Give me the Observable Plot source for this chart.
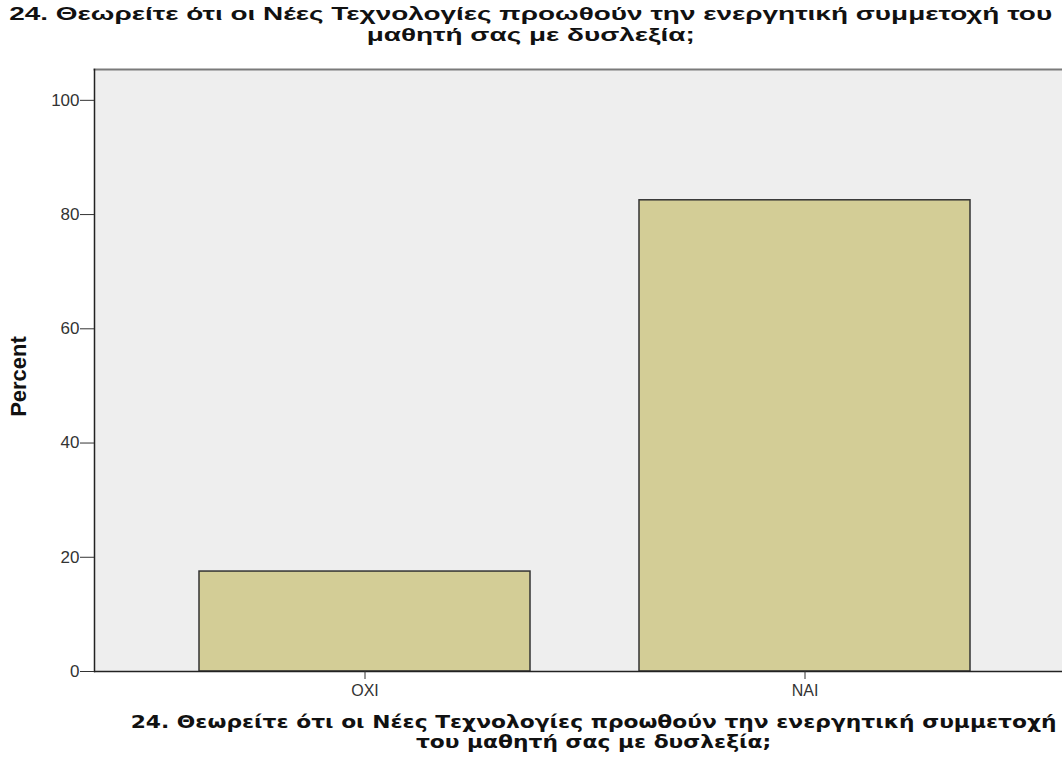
<!DOCTYPE html>
<html><head><meta charset="utf-8">
<script src="https://cdn.jsdelivr.net/npm/d3@7"></script>
<script src="https://cdn.jsdelivr.net/npm/@observablehq/plot@0.6"></script>
<style>
body{margin:0;background:#fff;width:1062px;height:769px;overflow:hidden;}
#title{font:bold 19px "Liberation Sans",Arial,sans-serif;text-align:center;line-height:21px;height:50px;padding-top:3px;box-sizing:border-box;color:#111;width:1062px;white-space:nowrap;}
#title span{display:inline-block;transform:scaleX(1.47);transform-origin:50% 50%;}
#xlabel{font:bold 18px "DejaVu Sans",sans-serif;text-align:center;line-height:20px;padding-top:7px;padding-left:126px;box-sizing:border-box;width:1062px;color:#111;white-space:nowrap;}
#xlabel span{display:inline-block;transform:scaleX(1.21);transform-origin:50% 50%;}
#chart svg{display:block;}
</style>
</head><body>
<div id="title"><span>24. Θεωρείτε ότι οι Νέες Τεχνολογίες προωθούν την ενεργητική συμμετοχή του<br>μαθητή σας με δυσλεξία;</span></div>
<div id="chart"></div>
<div id="xlabel"><span>24. Θεωρείτε ότι οι Νέες Τεχνολογίες προωθούν την ενεργητική συμμετοχή<br>του μαθητή σας με δυσλεξία;</span></div>
<script>
const categories = ["OXI", "NAI"];
const percents = [17.5, 82.5];
const yTicks = [0, 20, 40, 60, 80, 100];
const yLabel = "Percent";

const data = categories.map((c, i) => ({category: c, percent: percents[i]}));

const chart = Plot.plot({
  width: 1062,
  height: 655,
  marginLeft: 94,
  marginRight: 0,
  marginTop: 19,
  marginBottom: 34,
  style: {background: "transparent", fontFamily: "Liberation Sans, Arial, sans-serif", fontSize: "16px", color: "#333"},
  x: {domain: categories, range: [94, 1075], paddingInner: 0.247, paddingOuter: 0.236, label: null, axis: null},
  y: {domain: [0, 105.4], label: null, axis: null},
  marks: [
    Plot.frame({fill: "#eeeeee", stroke: null}),
    Plot.barY(data, {x: "category", y: "percent", fill: "#d3cd96", stroke: "#333", strokeWidth: 1.5}),
    Plot.frame({anchor: "top", stroke: "#7a7a7a", strokeWidth: 2}),
    Plot.frame({anchor: "left", stroke: "#222", strokeWidth: 1.5}),
    Plot.ruleY([0], {stroke: "#222", strokeWidth: 1.5}),
    Plot.axisY(yTicks, {tickSize: 14, tickPadding: 1, label: null, stroke: "#333", fill: "#333", fontSize: 17}),
    Plot.axisX({tickSize: 8, tickPadding: 5, label: null, stroke: "#333", fill: "#333", fontSize: 16}),
    Plot.text([yLabel], {frameAnchor: "left", textAnchor: "middle", dx: -76, dy: 6, rotate: -90, fontWeight: "bold", fontSize: 22, fill: "#111"})
  ]
});
document.getElementById("chart").append(chart);
</script>
</body></html>
